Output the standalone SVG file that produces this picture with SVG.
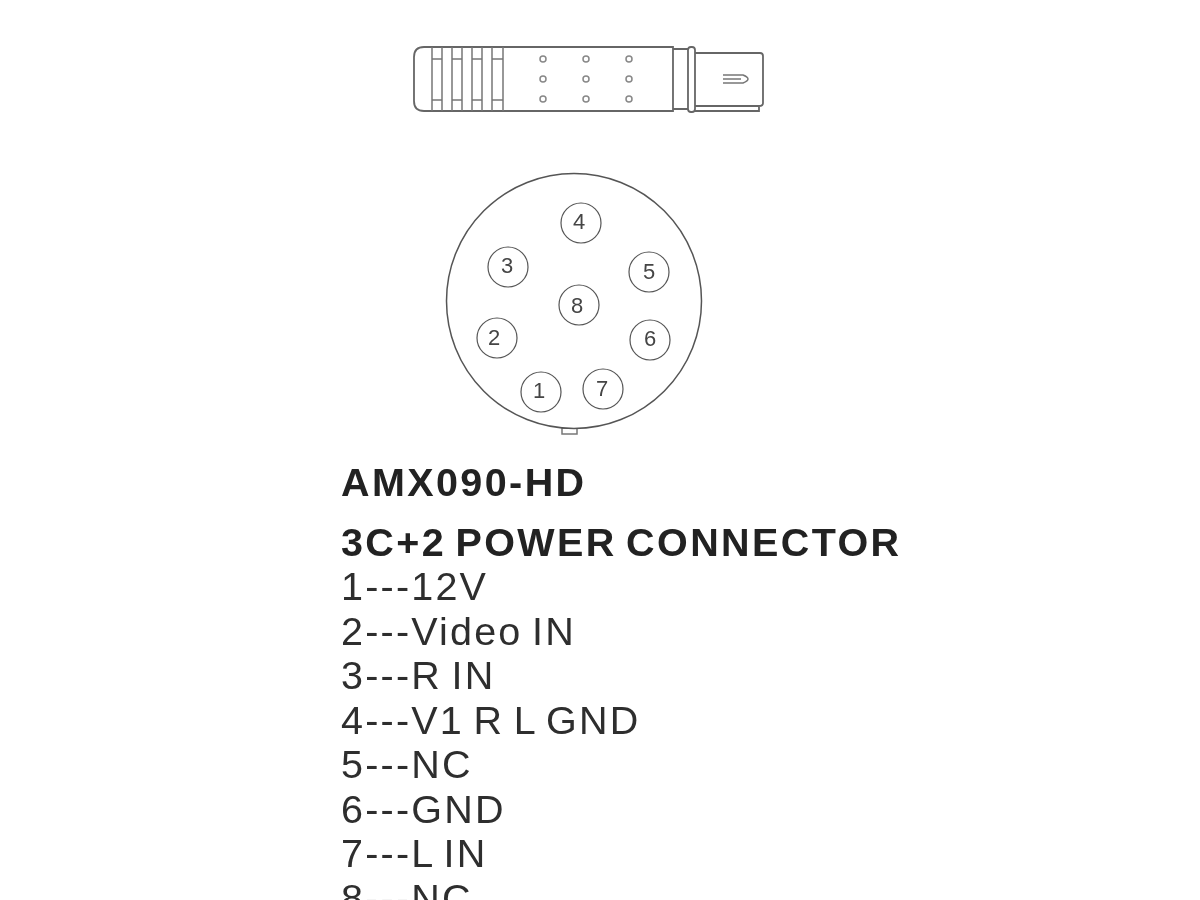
<svg xmlns="http://www.w3.org/2000/svg" width="1200" height="900" viewBox="0 0 1200 900">
<defs><filter id="soft" x="-5%" y="-5%" width="110%" height="110%"><feGaussianBlur stdDeviation="0.45"/></filter></defs>
<style>
.ln{fill:none;stroke:#666;stroke-width:1.8}
.thin{fill:none;stroke:#777;stroke-width:1.5}
.hole{fill:#fff;stroke:#888;stroke-width:1.5}
.pin{fill:none;stroke:#555;stroke-width:1.2}
.pn{font-family:"Liberation Sans",Arial,sans-serif;font-size:22px;fill:#444;text-anchor:middle}
.h{font-family:"Liberation Sans",Arial,sans-serif;font-size:39.5px;font-weight:700;fill:#222;letter-spacing:2.4px;word-spacing:-4px}
.b{font-family:"Liberation Sans",Arial,sans-serif;font-size:39.5px;fill:#2e2e2e;letter-spacing:2.2px;word-spacing:-3.6px}
</style>
<rect width="1200" height="900" fill="#fff"/>
<g id="side-view" filter="url(#soft)">
<path class="ln" d="M424 47H673V111H424Q414 111 414 101V57Q414 47 424 47Z"/>
<path class="thin" d="M432 47V111M442 47V111M452 47V111M462 47V111M472 47V111M482 47V111M492 47V111M503 47V111"/>
<path class="thin" d="M432 59H442M452 59H462M472 59H482M492 59H503M432 100H442M452 100H462M472 100H482M492 100H503"/>
<path class="ln" d="M673 49H688M673 109H688"/>
<rect class="ln" x="688" y="47" width="7" height="65" rx="3"/>
<path class="ln" d="M695 53H760Q763 53 763 56V103Q763 106 759 106V111H695M695 106H759"/>
<path class="thin" d="M723 75H743Q748 77 748 79Q748 81 743 83H723M723 79H741"/>
<g class="hole-grid">
<circle class="hole" cx="543" cy="59" r="3"/><circle class="hole" cx="586" cy="59" r="3"/><circle class="hole" cx="629" cy="59" r="3"/>
<circle class="hole" cx="543" cy="79" r="3"/><circle class="hole" cx="586" cy="79" r="3"/><circle class="hole" cx="629" cy="79" r="3"/>
<circle class="hole" cx="543" cy="99" r="3"/><circle class="hole" cx="586" cy="99" r="3"/><circle class="hole" cx="629" cy="99" r="3"/>
</g>
</g>
<g id="connector-face" filter="url(#soft)">
<rect class="thin" x="562" y="428" width="15" height="6"/>
<circle cx="574" cy="301" r="127.500" fill="#fff" stroke="#555" stroke-width="1.500"/>
</g>
<g id="pin-1" filter="url(#soft)"><circle class="pin" cx="541" cy="392" r="20"/><text class="pn" x="539" y="398">1</text></g>
<g id="pin-2" filter="url(#soft)"><circle class="pin" cx="497" cy="338" r="20"/><text class="pn" x="494" y="345">2</text></g>
<g id="pin-3" filter="url(#soft)"><circle class="pin" cx="508" cy="267" r="20"/><text class="pn" x="507" y="273">3</text></g>
<g id="pin-4" filter="url(#soft)"><circle class="pin" cx="581" cy="223" r="20"/><text class="pn" x="579" y="229">4</text></g>
<g id="pin-5" filter="url(#soft)"><circle class="pin" cx="649" cy="272" r="20"/><text class="pn" x="649" y="279">5</text></g>
<g id="pin-6" filter="url(#soft)"><circle class="pin" cx="650" cy="340" r="20"/><text class="pn" x="650" y="346">6</text></g>
<g id="pin-7" filter="url(#soft)"><circle class="pin" cx="603" cy="389" r="20"/><text class="pn" x="602" y="396">7</text></g>
<g id="pin-8" filter="url(#soft)"><circle class="pin" cx="579" cy="305" r="20"/><text class="pn" x="577" y="313">8</text></g>
<g id="labels" filter="url(#soft)">
<text class="h" x="341" y="496">AMX090-HD</text>
<text class="h" x="341" y="556">3C+2 POWER CONNECTOR</text>
<text class="b" x="341" y="600">1---12V</text>
<text class="b" x="341" y="645">2---Video IN</text>
<text class="b" x="341" y="689">3---R IN</text>
<text class="b" x="341" y="734">4---V1 R L GND</text>
<text class="b" x="341" y="778">5---NC</text>
<text class="b" x="341" y="823">6---GND</text>
<text class="b" x="341" y="867">7---L IN</text>
<text class="b" x="341" y="912">8---NC</text>
</g>
</svg>
